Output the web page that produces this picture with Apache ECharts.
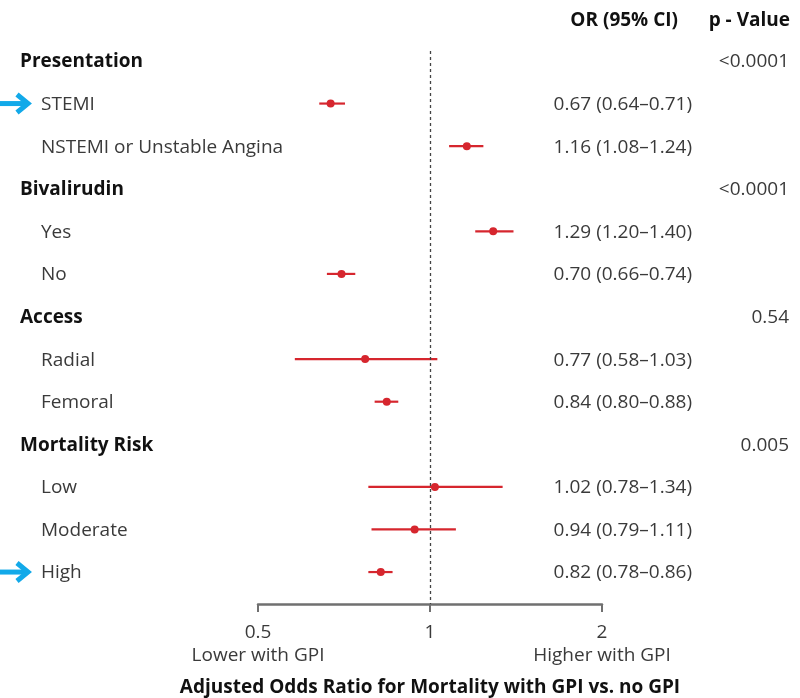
<!DOCTYPE html>
<html><head><meta charset="utf-8">
<script src="https://cdn.jsdelivr.net/npm/echarts@6/dist/echarts.min.js"></script>
<style>html,body{margin:0;padding:0;background:#fff}#c{width:800px;height:698px}</style>
</head><body><div id="c"></div>
<script>
var labels = ['Presentation','STEMI','NSTEMI or Unstable Angina','Bivalirudin','Yes','No','Access','Radial','Femoral','Mortality Risk','Low','Moderate','High'];
var isHeader = [1,0,0,1,0,0,1,0,0,1,0,0,0];
var arrows = [0,1,0,0,0,0,0,0,0,0,0,0,1];
var orVals = [null,0.67,1.16,null,1.29,0.70,null,0.77,0.84,null,1.02,0.94,0.82];
var ciLow = [null,0.64,1.08,null,1.20,0.66,null,0.58,0.80,null,0.78,0.79,0.78];
var ciHigh = [null,0.71,1.24,null,1.40,0.74,null,1.03,0.88,null,1.34,1.11,0.86];
var orText = ['','0.67 (0.64\u20130.71)','1.16 (1.08\u20131.24)','','1.29 (1.20\u20131.40)','0.70 (0.66\u20130.74)','','0.77 (0.58\u20131.03)','0.84 (0.80\u20130.88)','','1.02 (0.78\u20131.34)','0.94 (0.79\u20131.11)','0.82 (0.78\u20130.86)'];
var pText = ['<0.0001','','','<0.0001','','','0.54','','','0.005','','',''];
var xTicks = {0.5:'0.5', 1:'1', 2:'2'};
var xSub = {0.5:'Lower with GPI', 2:'Higher with GPI'};

var FONT = '"Open Sans", "Noto Sans", sans-serif';
var FS = 19;
var TXT = '#3a3a3a';
var RED = '#d6262e';
var CYAN = '#12a9e9';

var data = labels.map(function(l,i){ return [orVals[i] == null ? 1 : orVals[i], i, ciLow[i], ciHigh[i], i]; });

var chart = echarts.init(document.getElementById('c'));
chart.setOption({
  animation: false,
  backgroundColor: '#fff',
  grid: {left: 258, right: 198, top: 51, bottom: 94, containLabel: false, outerBoundsMode: 'none'},
  xAxis: {
    type: 'log', logBase: 2, min: 0.5, max: 2,
    splitLine: {show: false},
    axisLine: {show: true, onZero: false, lineStyle: {color: '#707070', width: 2.5}},
    axisTick: {show: true, length: 8, lineStyle: {color: '#707070', width: 2}},
    minorTick: {show: false},
    axisLabel: {
      margin: 17, color: TXT, fontFamily: FONT, fontSize: FS, lineHeight: 23,
      formatter: function(v){ var k = Math.round(v*100)/100; var s = xTicks[k] || ''; if (xSub[k]) s += '\n' + xSub[k]; return s; }
    },
    name: 'Adjusted Odds Ratio for Mortality with GPI vs. no GPI',
    nameLocation: 'middle', nameGap: 74,
    nameTextStyle: {color: '#111', fontFamily: FONT, fontSize: FS, fontWeight: 'bold'}
  },
  yAxis: {
    type: 'value', inverse: true, min: -0.234, max: 12.75,
    show: false
  },
  series: [{
    type: 'custom',
    data: data,
    clip: false,
    renderItem: function(params, api){
      var i = api.value(4);
      var y = api.coord([1, i])[1];
      var ty = y + 1;
      var children = [];
      var hdr = isHeader[i];
      children.push({type:'text', style:{text: labels[i], x: hdr ? 20 : 41, y: ty, verticalAlign:'middle', align:'left',
        fill: hdr ? '#111' : TXT, font: (hdr ? 'bold ' : '') + FS + 'px ' + FONT}});
      if (arrows[i]) {
        children.push({type:'polyline', shape:{points:[[0,y],[26,y]]}, style:{stroke: CYAN, lineWidth: 5, fill: null}});
        children.push({type:'polyline', shape:{points:[[17,y-9],[28,y],[17,y+9]]}, style:{stroke: CYAN, lineWidth: 5, fill: null, lineJoin:'miter'}});
      }
      if (orVals[i] != null) {
        var pl = api.coord([ciLow[i], i]);
        var ph = api.coord([ciHigh[i], i]);
        var pm = api.coord([orVals[i], i]);
        children.push({type:'line', shape:{x1: pl[0], y1: y, x2: ph[0], y2: y}, style:{stroke: RED, lineWidth: 2.2}});
        children.push({type:'circle', shape:{cx: pm[0], cy: y, r: 4}, style:{fill: RED}});
        children.push({type:'text', style:{text: orText[i], x: 692, y: ty, verticalAlign:'middle', align:'right', fill: TXT, font: FS + 'px ' + FONT}});
      }
      if (pText[i]) {
        children.push({type:'text', style:{text: pText[i], x: 789, y: ty, verticalAlign:'middle', align:'right', fill: TXT, font: FS + 'px ' + FONT}});
      }
      return {type:'group', children: children};
    },
    markLine: {
      silent: true, symbol: 'none', label: {show: false},
      lineStyle: {color: '#444', type: [3, 3], width: 1.3},
      data: [{xAxis: 1}]
    }
  }],
  graphic: [
    {type:'text', style:{text:'OR (95% CI)', x: 678, y: 21, align:'right', verticalAlign:'middle', fill:'#111', font:'bold ' + FS + 'px ' + FONT}},
    {type:'text', style:{text:'p - Value', x: 790, y: 21, align:'right', verticalAlign:'middle', fill:'#111', font:'bold ' + FS + 'px ' + FONT}}
  ]
});
</script></body></html>
